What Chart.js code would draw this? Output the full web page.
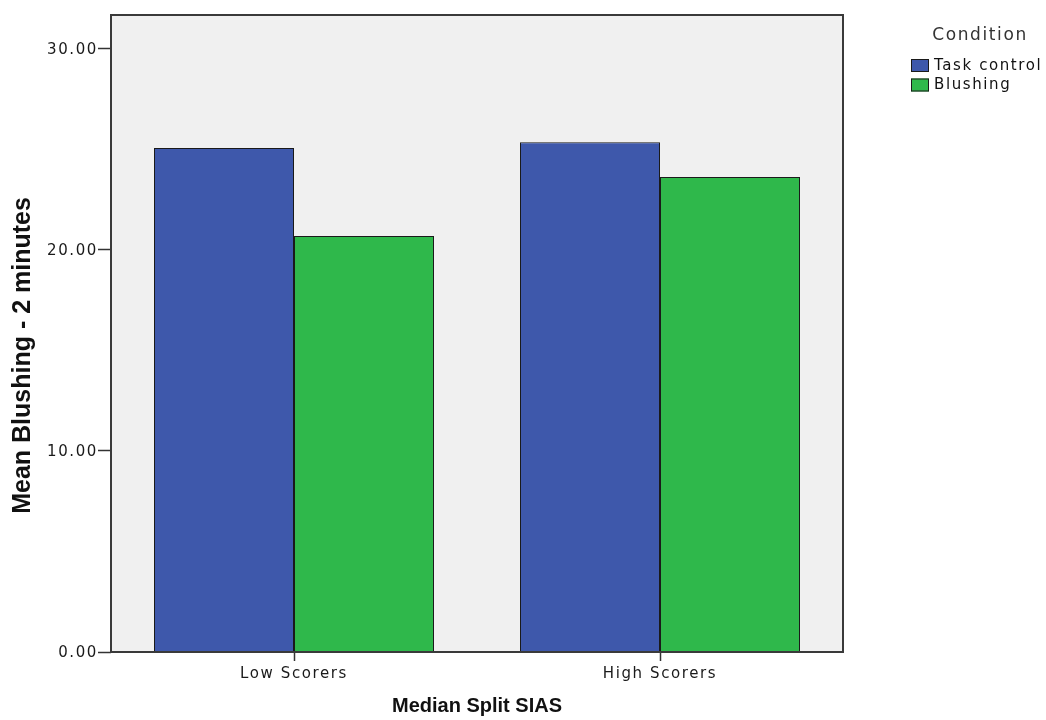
<!DOCTYPE html>
<html>
<head>
<meta charset="utf-8">
<script src="https://cdn.jsdelivr.net/npm/chart.js@4.4.1/dist/chart.umd.min.js"></script>
<style>
    body { margin: 0; background: #fff; }
    #wrap { width: 1046px; height: 720px; }
</style>
</head>
<body>
<div id="wrap"><canvas id="blushChart"></canvas></div>
<script>
// Data
const groups = ['Low Scorers', 'High Scorers'];
const seriesNames = ['Task control', 'Blushing'];
const taskControl = [25.04, 25.33];
const blushing = [20.67, 23.60];
const yTicks = [0, 10, 20, 30];
const yMax = 31.65;

const barColors = ['#3e58ab', '#2fb84b'];
const textSpacing = '1.6px';
const tickFont = "'DejaVu Sans', Verdana, sans-serif";

// SPSS-style wide tick text, grey plot box, titles and legend
const spssLook = {
    id: 'spssLook',
    beforeLayout(chart) {
        chart.ctx.letterSpacing = textSpacing;
    },
    beforeDraw(chart) {
        const ctx = chart.ctx;
        const a = chart.chartArea;
        ctx.letterSpacing = textSpacing;
        ctx.save();
        ctx.fillStyle = '#f0f0f0';
        ctx.fillRect(a.left, a.top, a.right - a.left, a.bottom - a.top);
        ctx.restore();
    },
    afterDatasetsDraw(chart) {
        const ctx = chart.ctx;
        const a = chart.chartArea;
        ctx.save();
        ctx.strokeStyle = '#3a3a3a';
        ctx.lineWidth = 2;
        ctx.strokeRect(a.left, a.top, a.right - a.left, a.bottom - a.top);
        ctx.restore();
    },
    afterDraw(chart) {
        const ctx = chart.ctx;
        const a = chart.chartArea;
        ctx.save();

        // axis titles
        ctx.letterSpacing = '0px';
        ctx.fillStyle = '#111';
        ctx.textAlign = 'center';
        ctx.textBaseline = 'middle';
        ctx.font = 'bold 20px "Liberation Sans", Arial, sans-serif';
        ctx.fillText('Median Split SIAS', (a.left + a.right) / 2, a.bottom + 54);

        ctx.save();
        ctx.translate(23, (a.top + a.bottom) / 2 + 22);
        ctx.rotate(-Math.PI / 2);
        ctx.font = 'bold 25px "Liberation Sans", Arial, sans-serif';
        ctx.fillText('Mean Blushing - 2 minutes', 0, 0);
        ctx.restore();

        // legend
        ctx.letterSpacing = textSpacing;
        ctx.fillStyle = '#333';
        ctx.font = '17px ' + tickFont;
        ctx.textAlign = 'center';
        ctx.fillText('Condition', a.right + 137, 36);

        ctx.font = '15px ' + tickFont;
        ctx.textAlign = 'left';
        chart.data.datasets.forEach((ds, i) => {
            const y = 59 + i * 19.5;
            ctx.fillStyle = ds.backgroundColor;
            ctx.fillRect(a.right + 68, y, 18, 13);
            ctx.strokeStyle = '#1a1a1a';
            ctx.lineWidth = 1;
            ctx.strokeRect(a.right + 68.5, y + 0.5, 17, 12);
            ctx.fillStyle = '#111';
            ctx.fillText(ds.label, a.right + 91, y + 7);
        });
        ctx.restore();
    }
};

const ctx = document.getElementById('blushChart').getContext('2d');

new Chart(ctx, {
    type: 'bar',
    data: {
        labels: groups,
        datasets: [
            {
                label: seriesNames[0],
                data: taskControl,
                backgroundColor: barColors[0],
                borderColor: '#1a1a1a',
                borderWidth: 1
            },
            {
                label: seriesNames[1],
                data: blushing,
                backgroundColor: barColors[1],
                borderColor: '#1a1a1a',
                borderWidth: 1
            }
        ]
    },
    options: {
        responsive: true,
        maintainAspectRatio: false,
        animation: false,
        datasets: {
            bar: {
                categoryPercentage: 0.765,
                barPercentage: 1
            }
        },
        layout: {
            padding: { top: 15, right: 203, bottom: 0, left: 0 }
        },
        plugins: {
            legend: { display: false },
            tooltip: { enabled: false }
        },
        scales: {
            x: {
                afterFit: (scale) => { scale.height = 68; },
                border: { display: false },
                grid: {
                    offset: false,
                    drawOnChartArea: false,
                    tickLength: 9,
                    tickColor: '#333',
                    tickWidth: 1.5
                },
                ticks: {
                    color: '#1a1a1a',
                    padding: 4,
                    font: { size: 15, family: tickFont }
                }
            },
            y: {
                min: 0,
                max: yMax,
                afterFit: (scale) => { scale.width = 111; },
                afterBuildTicks: (scale) => {
                    scale.ticks = yTicks.map(v => ({ value: v }));
                },
                border: { display: false },
                grid: {
                    drawOnChartArea: false,
                    tickLength: 13,
                    tickColor: '#333',
                    tickWidth: 1.5
                },
                ticks: {
                    color: '#1a1a1a',
                    padding: 0,
                    labelOffset: 1.5,
                    font: { size: 15, family: tickFont },
                    callback: (value) => Number(value).toFixed(2)
                }
            }
        }
    },
    plugins: [spssLook]
});
</script>
</body>
</html>
